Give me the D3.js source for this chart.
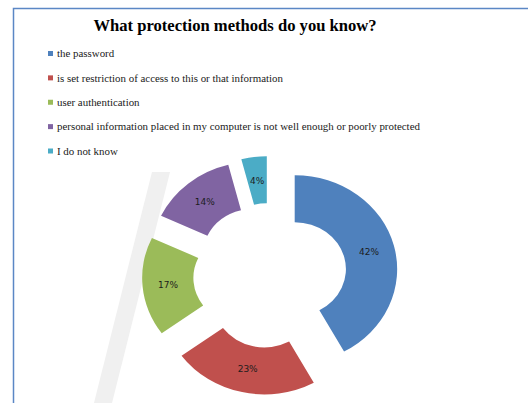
<!DOCTYPE html>
<html>
<head>
<meta charset="utf-8">
<script src="https://cdn.jsdelivr.net/npm/d3@7/dist/d3.min.js"></script>
<style>
  html, body { margin: 0; padding: 0; background: #fff; }
  svg { display: block; }
</style>
</head>
<body>
<svg id="chart" width="528" height="403"></svg>
<script>
const title = "What protection methods do you know?";
const categories = [
  "the password",
  "is set restriction of access to this or that information",
  "user authentication",
  "personal information placed in my computer is not well enough or poorly protected",
  "I do not know"
];
const values = [42, 23, 17, 14, 4];
const labels = ["42%", "23%", "17%", "14%", "4%"];
const colors = ["#4f81bd", "#c0504d", "#9bbb59", "#8064a2", "#4bacc6"];

const svg = d3.select("#chart");

// faint background slash (watermark remnant)
svg.append("path").attr("d", "M152,172 L170,172 L112,403 L94,403 Z").attr("fill", "#f0f0f0");

// chart border
svg.append("rect").attr("x", 13.5).attr("y", 8.5).attr("width", 600).attr("height", 500)
  .attr("fill", "none").attr("stroke", "#5b87c5").attr("stroke-width", 1.5);

// title
svg.append("text").attr("x", 235).attr("y", 31).attr("text-anchor", "middle")
  .attr("font-family", "Liberation Serif, Times New Roman, serif").attr("font-weight", "bold")
  .attr("font-size", 16.6).attr("fill", "#000").text(title);

// legend
const yLeg = d3.scalePoint().domain(categories).range([53.5, 151]);
const leg = svg.append("g");
categories.forEach((c, i) => {
  const y = yLeg(c);
  leg.append("rect").attr("x", 48).attr("y", y - 2.5).attr("width", 5).attr("height", 5).attr("fill", colors[i]);
  leg.append("text").attr("x", 57).attr("y", y + 3.8)
    .attr("font-family", "Liberation Serif, Times New Roman, serif").attr("font-size", 10.9)
    .attr("fill", "#1a1a1a").text(c);
});

// doughnut
const cx = 270, cy = 275.5, R = 94, r = 47, sx = 1.09, explode = 25.5;
const pie = d3.pie().sort(null).value(d => d);
const arcs = pie(values);
const arc = d3.arc().innerRadius(r).outerRadius(R);
const g = svg.append("g");
arcs.forEach((a, i) => {
  const mid = (a.startAngle + a.endAngle) / 2;
  const ox = cx + explode * Math.sin(mid);
  const oy = cy - explode * Math.cos(mid);
  g.append("path").attr("d", arc(a))
    .attr("transform", `translate(${ox},${oy}) scale(${sx},1)`)
    .attr("fill", colors[i]);
  const lr = (R + r) / 2;
  g.append("text")
    .attr("x", ox + Math.sin(mid) * lr * sx)
    .attr("y", oy - Math.cos(mid) * lr + 3.3)
    .attr("text-anchor", "middle")
    .attr("font-family", "DejaVu Sans, sans-serif").attr("font-size", 9)
    .attr("fill", "#1c1c1c").text(labels[i]);
});
</script>
</body>
</html>
